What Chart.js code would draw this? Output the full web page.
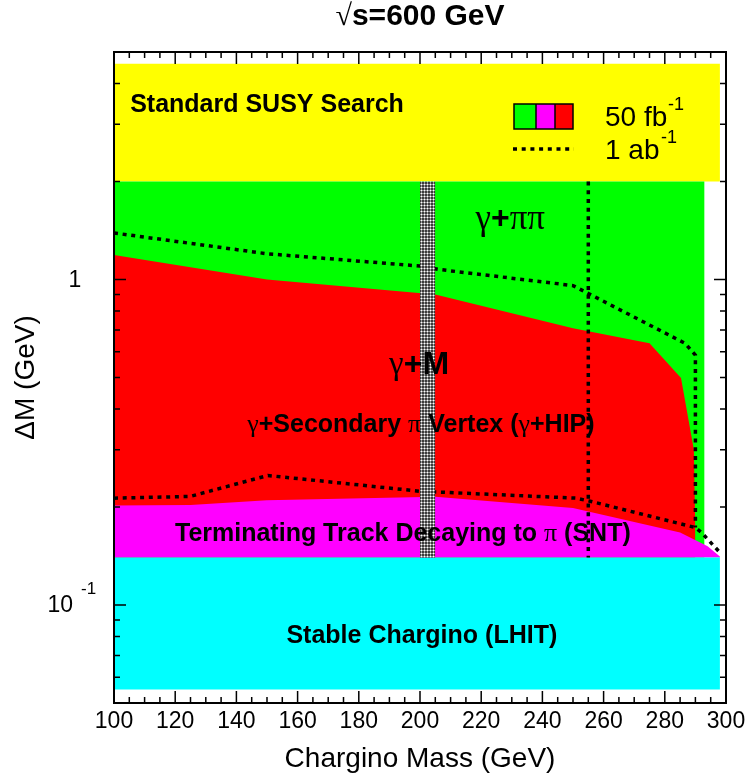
<!DOCTYPE html>
<html><head><meta charset="utf-8">
<script src="https://cdn.jsdelivr.net/npm/chart.js@4/dist/chart.umd.min.js"></script>
<style>html,body{margin:0;padding:0;background:#fff}#wrap{width:746px;height:782px}</style>
</head><body><div id="wrap"><canvas id="c" width="746" height="782"></canvas></div>
<script>
// ---------- data ----------
const massTicks = [100,120,140,160,180,200,220,240,260,280,300];
const deltaMMajorTicks = [0.1, 1];
const deltaMMinorTicks = [0.05,0.06,0.07,0.08,0.09,0.2,0.3,0.4,0.5,0.6,0.7,0.8,0.9,2,3,4,5];

const yellowMass = [100, 298];      const yellowTop = [4.6, 4.6];   const yellowBase = 2.0;
const greenMass  = [100, 293];      const greenTop  = [2.0, 2.0];   const regionBase = 0.14;
const redMass    = [100, 150, 205, 250, 275, 285.3, 289.5, 290];
const redTop     = [1.19, 1.0, 0.90, 0.708, 0.637, 0.498, 0.30, 0.165];
const magentaMass = [100, 125, 150, 205, 250, 285, 294, 298];
const magentaTop  = [0.202, 0.203, 0.210, 0.215, 0.1985, 0.167, 0.1515, 0.141];
const cyanMass   = [100, 298];      const cyanTop   = [0.14, 0.14]; const cyanBase = 0.055;
const bandMass   = [200, 205];      const bandTop   = [2.0, 2.0];
const lumiUpperMass = [100, 150, 200, 206.5, 250, 255, 286.6, 290, 290];
const lumiUpperDM   = [1.39, 1.20, 1.10, 1.073, 0.958, 0.906, 0.637, 0.586, 0.173];
const lumiLowerMass = [100, 124.8, 150.3, 200, 251, 255.6, 290, 292, 298];
const lumiLowerDM   = [0.213, 0.2155, 0.250, 0.2236, 0.213, 0.2084, 0.173, 0.167, 0.145];
const lepMass = [255, 255];         const lepDM = [2.0, 0.14];

// ---------- styles ----------
const SANS = '"Liberation Sans", Arial, Helvetica, sans-serif';
const SERIF = '"Liberation Serif", "DejaVu Serif", serif';
const pts = (xs, ys) => xs.map((x, i) => ({x, y: ys[i]}));
const canvas = document.getElementById('c');
const ctx0 = canvas.getContext('2d');
function makePattern(){
  const c = document.createElement('canvas'); c.width = 3; c.height = 3;
  const g = c.getContext('2d');
  g.fillStyle = '#3c3c3c'; g.fillRect(0,0,3,3);
  g.fillStyle = '#9a9a9a'; g.fillRect(1,0,1,1); g.fillRect(0,1,1,1); g.fillRect(2,1,1,1); g.fillRect(1,2,1,1);
  g.fillStyle = '#ffffff'; g.fillRect(1,1,1,1);
  return ctx0.createPattern(c, 'repeat');
}
const NONE = 'rgba(0,0,0,0)';
function area(data, color, base, order){
  return {data, showLine:true, pointRadius:0, borderWidth:0, borderColor:NONE, backgroundColor:color, fill:{value:base}, order};
}
function dotted(data, order){
  return {data, showLine:true, pointRadius:0, borderWidth:3.5, borderColor:'#000', borderDash:[4,4.7], borderCapStyle:'butt', fill:false, order, backgroundColor:NONE};
}

function drawRich(ctx, segs, x, cy, align){
  let w = 0;
  segs.forEach(s => { ctx.font = s.font; s.w = ctx.measureText(s.t).width; w += s.w; });
  let px = align === 'left' ? x : align === 'right' ? x - w : x - w/2;
  ctx.textBaseline = 'middle'; ctx.textAlign = 'left'; ctx.fillStyle = '#000';
  segs.forEach(s => { ctx.font = s.font; ctx.fillText(s.t, px, cy + (s.dy || 0)); px += s.w; });
}
const B = s => `bold ${s}px ${SANS}`;
const R = s => `${s}px ${SANS}`;
const G = s => `${s}px ${SERIF}`;

const decor = {
  id: 'decor',
  afterDatasetsDraw(chart){
    const {ctx, chartArea:a, scales:{x, y}} = chart;
    ctx.save();
    // region labels
    const lab = (segs, mx, dm) => drawRich(ctx, segs, x.getPixelForValue(mx), y.getPixelForValue(dm), 'center');
    lab([{t:'Standard SUSY Search', font:B(25)}], 150, 3.43);
    lab([{t:'γ', font:G(35)}, {t:'+', font:B(32)}, {t:'ππ', font:G(35)}], 229.5, 1.53);
    lab([{t:'γ', font:G(33)}, {t:'+M', font:B(32)}], 199.7, 0.546);
    lab([{t:'γ', font:G(26)}, {t:'+Secondary ', font:B(25)}, {t:'π', font:G(26)}, {t:' Vertex (', font:B(25)}, {t:'γ', font:G(26)}, {t:'+HIP)', font:B(25)}], 200.3, 0.3577);
    lab([{t:'Terminating Track Decaying to ', font:B(25)}, {t:'π', font:G(26)}, {t:' (SNT)', font:B(25)}], 194.4, 0.165);
    lab([{t:'Stable Chargino (LHIT)', font:B(25)}], 200.6, 0.0804);

    // frame + inward ticks
    ctx.strokeStyle = '#000'; ctx.lineWidth = 2;
    ctx.strokeRect(a.left, a.top, a.right - a.left, a.bottom - a.top);
    ctx.lineWidth = 1.5;
    ctx.beginPath();
    for (let m = 100; m <= 300; m += 5) {
      const px = x.getPixelForValue(m);
      const L = massTicks.includes(m) ? 12 : 6;
      ctx.moveTo(px, a.bottom); ctx.lineTo(px, a.bottom - L);
      ctx.moveTo(px, a.top); ctx.lineTo(px, a.top + L);
    }
    const yt = deltaMMajorTicks.map(v => [v, 12]).concat(deltaMMinorTicks.map(v => [v, 6]));
    yt.forEach(([v, L]) => {
      const py = y.getPixelForValue(v);
      ctx.moveTo(a.left, py); ctx.lineTo(a.left + L, py);
      ctx.moveTo(a.right, py); ctx.lineTo(a.right - L, py);
    });
    ctx.stroke();

    // y tick labels
    const p1 = y.getPixelForValue(1), p01 = y.getPixelForValue(0.1);
    drawRich(ctx, [{t:'1', font:R(23)}], 75, p1 + 1, 'center');
    drawRich(ctx, [{t:'10', font:R(23)}], 73, p01 + 1, 'right');
    drawRich(ctx, [{t:'-1', font:R(17)}], 81, p01 - 16, 'left');

    // title
    drawRich(ctx, [{t:'√', font:G(30)}, {t:'s=600 GeV', font:B(30)}], (a.left + a.right)/2, 17, 'center');

    // legend
    const lx = 514, ly = 104, lw = 59, lh = 25;
    ctx.fillStyle = '#00ff00'; ctx.fillRect(lx, ly, 22, lh);
    ctx.fillStyle = '#ff00ff'; ctx.fillRect(lx + 22, ly, 19, lh);
    ctx.fillStyle = '#ff0000'; ctx.fillRect(lx + 41, ly, lw - 41, lh);
    ctx.strokeStyle = '#000'; ctx.lineWidth = 1.5;
    ctx.strokeRect(lx, ly, lw, lh);
    ctx.beginPath(); ctx.moveTo(lx + 22, ly); ctx.lineTo(lx + 22, ly + lh); ctx.moveTo(lx + 41, ly); ctx.lineTo(lx + 41, ly + lh); ctx.stroke();
    ctx.lineWidth = 3.5; ctx.setLineDash([4, 4.7]);
    ctx.beginPath(); ctx.moveTo(513, 149); ctx.lineTo(574, 149); ctx.stroke();
    ctx.setLineDash([]);
    drawRich(ctx, [{t:'50 fb', font:R(28)}], 605, 118, 'left');
    drawRich(ctx, [{t:'-1', font:R(18)}], 668, 105, 'left');
    drawRich(ctx, [{t:'1 ab', font:R(28)}], 605, 151, 'left');
    drawRich(ctx, [{t:'-1', font:R(18)}], 661, 138, 'left');
    ctx.restore();
  }
};

new Chart(canvas, {
  type: 'scatter',
  data: {
    datasets: [
      area(pts(bandMass, bandTop), makePattern(), regionBase, 0),
      dotted(pts(lepMass, lepDM), 1),
      dotted(pts(lumiUpperMass, lumiUpperDM), 2),
      dotted(pts(lumiLowerMass, lumiLowerDM), 2),
      area(pts(cyanMass, cyanTop), '#00ffff', cyanBase, 3),
      area(pts(magentaMass, magentaTop), '#ff00ff', regionBase, 4),
      area(pts(redMass, redTop), '#ff0000', regionBase, 5),
      area(pts(greenMass, greenTop), '#00ff00', regionBase, 6),
      area(pts(yellowMass, yellowTop), '#ffff00', yellowBase, 7)
    ]
  },
  options: {
    responsive: false, animation: false,
    layout: {padding: {top: 52, right: 20, left: 0, bottom: 0}},
    plugins: {legend: {display: false}, tooltip: {enabled: false}, title: {display: false}},
    scales: {
      x: {
        type: 'linear', min: 100, max: 300,
        grid: {display: false, drawTicks: false}, border: {display: false},
        afterBuildTicks: s => { s.ticks = massTicks.map(v => ({value: v})); },
        ticks: {color: '#000', font: {family: SANS, size: 23}, padding: 5, maxRotation: 0, autoSkip: false},
        title: {display: true, text: 'Chargino Mass (GeV)', color: '#000', font: {family: SANS, size: 28}, padding: {top: 0, bottom: 6}},
        afterFit: s => { s.height = 79; s.paddingLeft = 0; s.paddingRight = 0; }
      },
      y: {
        type: 'logarithmic', min: 0.05, max: 5,
        grid: {display: false, drawTicks: false}, border: {display: false},
        ticks: {display: false},
        title: {display: true, text: 'ΔM (GeV)', color: '#000', font: {family: SANS, size: 28}, padding: {top: 9, bottom: 0}},
        afterFit: s => { s.width = 114; s.paddingTop = 0; s.paddingBottom = 0; }
      }
    }
  },
  plugins: [decor]
});
</script></body></html>
